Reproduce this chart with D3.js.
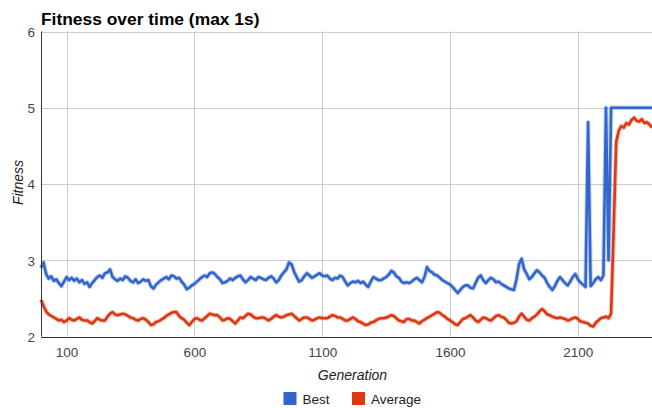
<!DOCTYPE html>
<html>
<head>
<meta charset="utf-8">
<script src="https://cdn.jsdelivr.net/npm/d3@7"></script>
<style>
  html, body { margin: 0; padding: 0; background: #fff; }
  svg { display: block; font-family: "Liberation Sans", Arial, sans-serif; }
</style>
</head>
<body>
<svg id="chart" width="652" height="408"></svg>
<script>
// ---- data ----
const generations = d3.range(0, 2400, 10);
const bestFitness = [
  2.90,2.97,2.82,2.76,2.79,2.73,2.75,2.70,2.66,2.72,
  2.78,2.74,2.77,2.73,2.76,2.71,2.74,2.69,2.71,2.65,
  2.70,2.74,2.78,2.80,2.77,2.83,2.84,2.88,2.78,2.75,
  2.73,2.76,2.74,2.79,2.77,2.73,2.71,2.75,2.70,2.72,
  2.75,2.73,2.74,2.66,2.63,2.68,2.71,2.74,2.76,2.78,
  2.75,2.80,2.79,2.76,2.77,2.72,2.68,2.62,2.64,2.67,
  2.69,2.72,2.75,2.78,2.80,2.78,2.83,2.84,2.82,2.78,
  2.75,2.70,2.71,2.73,2.76,2.74,2.77,2.79,2.80,2.75,
  2.71,2.74,2.78,2.76,2.74,2.78,2.77,2.75,2.74,2.77,
  2.79,2.76,2.71,2.74,2.80,2.84,2.88,2.97,2.95,2.85,
  2.78,2.72,2.74,2.79,2.83,2.80,2.77,2.79,2.81,2.83,
  2.80,2.79,2.80,2.76,2.74,2.77,2.76,2.80,2.78,2.72,
  2.67,2.70,2.72,2.71,2.73,2.70,2.72,2.68,2.65,2.72,
  2.78,2.76,2.74,2.74,2.76,2.78,2.81,2.86,2.84,2.79,
  2.77,2.72,2.70,2.71,2.70,2.72,2.75,2.77,2.74,2.71,
  2.78,2.91,2.86,2.84,2.81,2.80,2.77,2.74,2.72,2.70,
  2.68,2.65,2.61,2.57,2.61,2.65,2.67,2.67,2.64,2.63,
  2.70,2.77,2.80,2.74,2.70,2.74,2.77,2.75,2.71,2.72,
  2.69,2.67,2.65,2.63,2.62,2.61,2.75,2.95,3.02,2.88,
  2.82,2.75,2.78,2.83,2.87,2.84,2.80,2.77,2.70,2.65,
  2.61,2.66,2.73,2.78,2.74,2.70,2.67,2.72,2.78,2.82,
  2.75,2.71,2.68,2.65,4.81,2.66,2.70,2.75,2.78,2.74,
  2.80,5.00,3.00,5.00,5.00,5.00,5.00,5.00,5.00,5.00,
  5.00,5.00,5.00,5.00,5.00,5.00,5.00,5.00,5.00,5.00
];
const averageFitness = [
  2.48,2.40,2.33,2.29,2.27,2.25,2.23,2.21,2.22,2.19,
  2.21,2.24,2.22,2.21,2.23,2.25,2.22,2.21,2.21,2.19,
  2.17,2.20,2.24,2.22,2.21,2.21,2.26,2.30,2.32,2.29,
  2.28,2.29,2.30,2.29,2.27,2.25,2.24,2.22,2.21,2.23,
  2.24,2.22,2.19,2.15,2.16,2.19,2.20,2.22,2.24,2.27,
  2.29,2.31,2.32,2.32,2.27,2.24,2.22,2.18,2.15,2.19,
  2.23,2.24,2.22,2.21,2.24,2.27,2.30,2.29,2.28,2.28,
  2.25,2.21,2.22,2.24,2.23,2.20,2.17,2.21,2.25,2.24,
  2.27,2.30,2.29,2.26,2.24,2.24,2.25,2.25,2.23,2.21,
  2.23,2.26,2.28,2.26,2.25,2.26,2.28,2.29,2.30,2.27,
  2.24,2.21,2.23,2.25,2.25,2.23,2.21,2.22,2.24,2.25,
  2.24,2.24,2.24,2.26,2.28,2.27,2.25,2.25,2.23,2.21,
  2.21,2.23,2.25,2.23,2.20,2.19,2.17,2.15,2.16,2.18,
  2.19,2.21,2.23,2.24,2.24,2.25,2.26,2.28,2.27,2.24,
  2.21,2.20,2.19,2.23,2.23,2.21,2.21,2.19,2.17,2.20,
  2.22,2.24,2.26,2.28,2.30,2.32,2.31,2.28,2.26,2.23,
  2.21,2.19,2.16,2.15,2.19,2.23,2.24,2.26,2.28,2.25,
  2.21,2.19,2.22,2.25,2.24,2.22,2.21,2.24,2.27,2.28,
  2.26,2.25,2.22,2.18,2.17,2.18,2.20,2.26,2.30,2.26,
  2.22,2.21,2.24,2.26,2.29,2.33,2.36,2.33,2.29,2.28,
  2.26,2.25,2.24,2.25,2.24,2.23,2.21,2.22,2.24,2.25,
  2.23,2.20,2.19,2.18,2.17,2.14,2.13,2.18,2.21,2.24,
  2.25,2.26,2.24,2.30,3.40,4.55,4.70,4.76,4.74,4.80,
  4.78,4.84,4.87,4.83,4.82,4.85,4.80,4.81,4.78,4.74
];
const seriesNames = ["Best", "Average"];
const seriesColors = ["#3366CC", "#DC3912"];
const xTickValues = [100, 600, 1100, 1600, 2100];
const yTickValues = [2, 3, 4, 5, 6];

(function () {
  const pL = 41, pR = 652, pT = 31.5, pB = 336.5;
  const svg = d3.select("#chart");

  const x = d3.scaleLinear().domain([0, 2390]).range([pL, pR]);
  const y = d3.scaleLinear().domain([2, 6]).range([pB, pT]);

  // gridlines
  const grid = svg.append("g");
  grid.selectAll("line.h").data(yTickValues.filter(v => v !== 2)).enter().append("line")
    .attr("x1", pL).attr("x2", pR)
    .attr("y1", d => Math.round(y(d)) + 0.5).attr("y2", d => Math.round(y(d)) + 0.5)
    .attr("stroke", "#cccccc").attr("stroke-width", 1);
  grid.selectAll("line.v").data(xTickValues).enter().append("line")
    .attr("x1", d => Math.round(x(d)) + 0.5).attr("x2", d => Math.round(x(d)) + 0.5)
    .attr("y1", pT).attr("y2", pB)
    .attr("stroke", "#cccccc").attr("stroke-width", 1);

  // lines (soft halo + core, like the dense noisy trace of the original)
  const series = [bestFitness, averageFitness];
  const line = d3.line().x((d, i) => x(generations[i])).y(d => y(d));
  series.forEach((vals, k) => {
    svg.append("path")
      .datum(vals)
      .attr("d", line)
      .attr("fill", "none")
      .attr("stroke", seriesColors[k])
      .attr("stroke-opacity", 0.3)
      .attr("stroke-width", 4.5)
      .attr("stroke-linejoin", "round");
    svg.append("path")
      .datum(vals)
      .attr("d", line)
      .attr("fill", "none")
      .attr("stroke", seriesColors[k])
      .attr("stroke-width", 2.6)
      .attr("stroke-linejoin", "round");
  });

  // baselines
  svg.append("line").attr("x1", pL + 0.5).attr("x2", pL + 0.5).attr("y1", pT).attr("y2", pB)
    .attr("stroke", "#333").attr("stroke-width", 1);
  svg.append("line").attr("x1", pL).attr("x2", pR).attr("y1", Math.round(pB) + 0.5).attr("y2", Math.round(pB) + 0.5)
    .attr("stroke", "#333").attr("stroke-width", 1);

  // axes labels
  const xAxis = d3.axisBottom(x).tickValues(xTickValues).tickSize(0).tickPadding(0).tickFormat(d3.format("d"));
  const gx = svg.append("g").attr("transform", `translate(0,${pB})`).call(xAxis);
  gx.select(".domain").remove();
  gx.selectAll("text").attr("y", 20).attr("dy", 0).attr("fill", "#444")
    .style("font-size", "13.5px").style("font-family", '"Liberation Sans", Arial, sans-serif');

  const yAxis = d3.axisLeft(y).tickValues(yTickValues).tickSize(0).tickPadding(0).tickFormat(d3.format("d"));
  const gy = svg.append("g").attr("transform", `translate(${pL},0)`).call(yAxis);
  gy.select(".domain").remove();
  gy.selectAll("text").attr("x", -6).attr("dy", "0.36em").attr("fill", "#444")
    .style("font-size", "13.5px").style("font-family", '"Liberation Sans", Arial, sans-serif');

  // title
  svg.append("text").attr("x", 41).attr("y", 25)
    .attr("font-weight", "bold").attr("font-size", "17.4px").attr("fill", "#000")
    .text("Fitness over time (max 1s)");

  // axis titles
  svg.append("text").attr("x", 352.5).attr("y", 380).attr("text-anchor", "middle")
    .attr("font-style", "italic").attr("font-size", "14px").attr("fill", "#222")
    .text("Generation");
  svg.append("text").attr("transform", "translate(22.5,182.5) rotate(-90)").attr("text-anchor", "middle")
    .attr("font-style", "italic").attr("font-size", "14px").attr("fill", "#222")
    .text("Fitness");

  // legend
  const legendX = [283.5, 352];
  seriesNames.forEach((name, k) => {
    const g = svg.append("g").attr("transform", `translate(${legendX[k]},392)`);
    g.append("rect").attr("width", 13).attr("height", 13).attr("fill", seriesColors[k]);
    g.append("text").attr("x", 19).attr("y", 11.5).attr("font-size", "13.5px").attr("fill", "#222").text(name);
  });
})();
</script>
</body>
</html>
